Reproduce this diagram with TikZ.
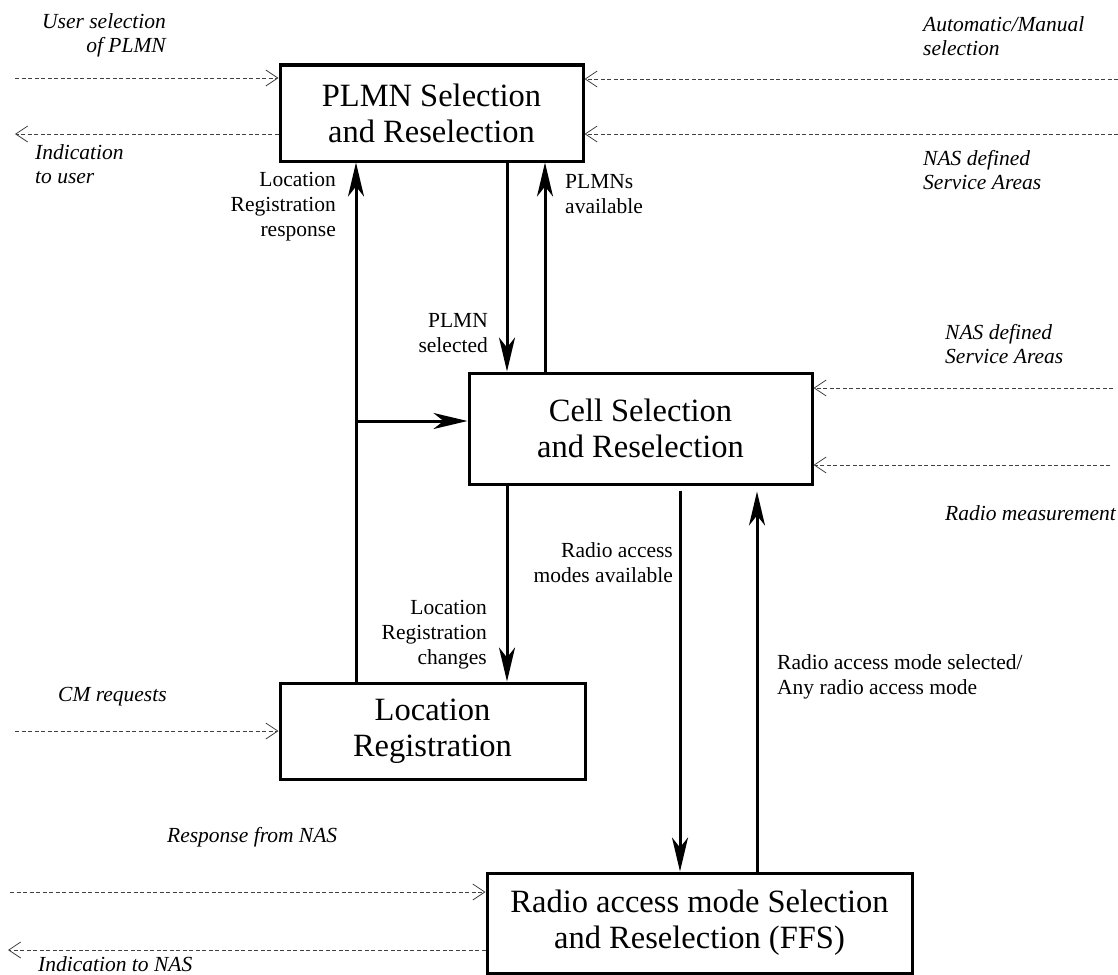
\documentclass[tikz,border=0pt]{standalone}
\usepackage{fontspec}
\setmainfont{Liberation Serif}
\usetikzlibrary{arrows.meta}

\tikzset{
  blk/.style={draw, line width=3pt, align=center, inner sep=0pt,
    font=\fontsize{32.5}{36}\selectfont},
  flow/.style={line width=3pt, -{Stealth[length=34pt,width=16pt,inset=10pt]}},
  sig/.style={draw=black!75, line width=0.8pt, dash pattern=on 4pt off 2.5pt,
    -{Straight Barb[length=12pt,width=16pt,line width=0.8pt]}},
  lbl/.style={inner sep=0pt, font=\fontsize{21.5}{25}\selectfont},
  ilbl/.style={inner sep=0pt, font=\fontsize{21.5}{24}\selectfont\itshape},
}

\begin{document}
\begin{tikzpicture}[x=1pt,y=-1pt]
  \useasboundingbox (0,0) rectangle (1118,974);

  % Blocks
  \node[blk, minimum width=303pt, minimum height=96pt]  (plmn)  at (431.5,113) {PLMN Selection\\and Reselection};
  \node[blk, minimum width=343pt, minimum height=111pt] (cell)  at (640.5,428.5) {Cell Selection\\and Reselection};
  \node[blk, minimum width=305pt, minimum height=96pt]  (lreg)  at (432.5,731) {Location\\Registration};
  \node[blk, minimum width=425pt, minimum height=100pt] (radio) at (699.5,923) {Radio access mode Selection\\and Reselection (FFS)};

  % Columns of the solid arrows
  \coordinate (xa) at (356,0);
  \coordinate (xb) at (507,0);
  \coordinate (xc) at (545,0);
  \coordinate (xd) at (680,0);
  \coordinate (xe) at (757,0);
  \coordinate (jn) at (356,421);

  \draw[flow] (lreg.north -| xa) -- (plmn.south -| xa);     % Location Registration response
  \draw[flow] (jn) -- (cell.west |- jn);
  \draw[flow] (plmn.south -| xb) -- (cell.north -| xb);     % PLMN selected
  \draw[flow] (cell.north -| xc) -- (plmn.south -| xc);     % PLMNs available
  \draw[flow] (cell.south -| xb) -- (lreg.north -| xb);     % Location Registration changes
  \draw[flow] ([yshift=-5pt]cell.south -| xd) -- (radio.north -| xd);
  \draw[flow] (radio.north -| xe) -- ([yshift=-6pt]cell.south -| xe);

  % Free ends of the dashed signals
  \coordinate (s1) at (15,78);
  \coordinate (s2) at (15,134);
  \coordinate (s3) at (1118,79);
  \coordinate (s4) at (1118,134);
  \coordinate (s5) at (1113,388);
  \coordinate (s6) at (1110,465);
  \coordinate (s7) at (15,731);
  \coordinate (s8) at (10,892);
  \coordinate (s9) at (8,950);

  \draw[sig] (s1) -- (plmn.west |- s1);
  \draw[sig] (plmn.west |- s2) -- (s2);
  \draw[sig] (s3) -- (plmn.east |- s3);
  \draw[sig] (s4) -- (plmn.east |- s4);
  \draw[sig] (s5) -- (cell.east |- s5);
  \draw[sig] (s6) -- (cell.east |- s6);
  \draw[sig] (s7) -- (lreg.west |- s7);
  \draw[sig] (s8) -- (radio.west |- s8);
  \draw[sig] (radio.west |- s9) -- (s9);

  % Labels of the solid arrows
  \node[lbl, anchor=east, align=right] (t1) at (336,207) {Location\\Registration\\response};
  \node[lbl, anchor=west, align=left]  (t2) at (565,194.5) {PLMNs\\available};
  \node[lbl, anchor=east, align=right] (t3) at (488,333.5) {PLMN\\selected};
  \node[lbl, anchor=east, align=right] (t4) at (673,562.5) {Radio access\\modes available};
  \node[lbl, anchor=east, align=right] (t5) at (487,635) {Location\\Registration\\changes};
  \node[lbl, anchor=west, align=left]  (t6) at (777,676.5) {Radio access mode selected/\\Any radio access mode};

  % Labels of the dashed signals
  \node[ilbl, anchor=east, align=right] (u1) at (166,35.5) {User selection\\of PLMN};
  \node[ilbl, anchor=west, align=left]  (u2) at (35,164) {Indication\\to user};
  \node[ilbl, anchor=west, align=left]  (u3) at (923,36) {Automatic/Manual\\selection};
  \node[ilbl, anchor=west, align=left]  (u4) at (923,170) {NAS defined\\Service Areas};
  \node[ilbl, anchor=west, align=left]  (u5) at (945,344.5) {NAS defined\\Service Areas};
  \node[ilbl, anchor=west]              (u6) at (945,513) {Radio measurement};
  \node[ilbl, anchor=west]              (u7) at (58,697) {CM requests};
  \node[ilbl, anchor=west]              (u8) at (167,837) {Response from NAS};
  \node[ilbl, anchor=west]              (u9) at (38,964) {Indication to NAS};
\end{tikzpicture}
\end{document}
